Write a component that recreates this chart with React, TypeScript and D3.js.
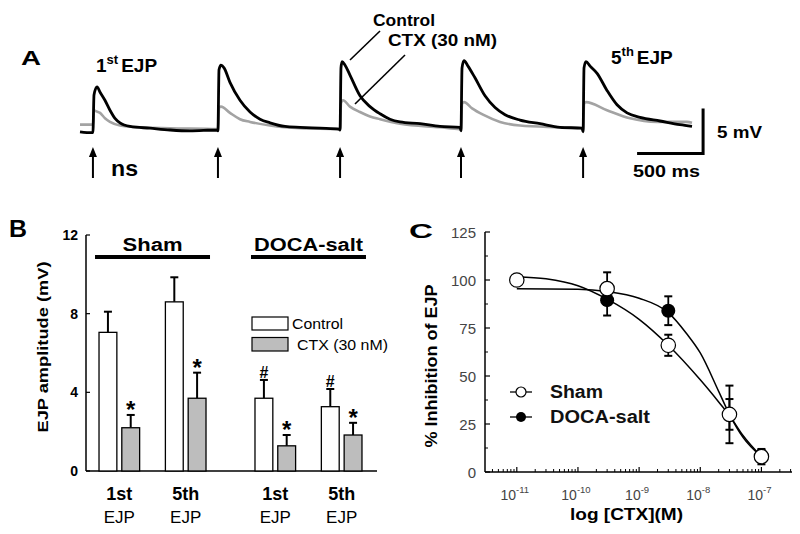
import React from "react";
import * as d3 from "d3";

const FONT = "'Liberation Sans', Arial, Helvetica, sans-serif";

// ---------- Panel A data (time in ms, membrane potential in mV) ----------
const stimTimes = [98, 1045, 1970, 2886, 3811];
const controlTrace: [number, number][] = [
  [0, -0.2], [91, -0.3], [98, -0.3], [106, 3.9], [129, 4.8], [152, 4.2], [189, 3.3], [227, 2.2], [265, 1.3], [303, 0.8], [379, 0.4], [530, 0.2], [682, 0], [833, -0.1], [1038, 0],
  [1045, -0.1], [1053, 6.7], [1068, 7.2], [1091, 6.9], [1136, 5.3], [1212, 3.3], [1288, 2.0], [1364, 1.2], [1439, 0.8], [1553, 0.4], [1667, 0.3], [1818, 0.2], [1962, 0.1],
  [1970, 0], [1977, 6.9], [1985, 7.6], [2008, 7.2], [2045, 6.1], [2121, 3.8], [2197, 2.6], [2273, 1.8], [2348, 1.2], [2424, 0.9], [2576, 0.7], [2727, 0.4], [2879, 0.3],
  [2886, -0.1], [2894, 6.9], [2909, 7.7], [2939, 7.1], [2992, 5.8], [3068, 3.8], [3144, 2.5], [3220, 1.7], [3333, 1.1], [3485, 0.7], [3636, 0.3], [3803, 0.2],
  [3811, -0.2], [3818, 6.9], [3833, 7.6], [3864, 7.1], [3917, 6.3], [3992, 4.4], [4068, 2.8], [4144, 1.9], [4242, 1.4], [4394, 1.0], [4545, 0.6], [4636, 0.4],
];
const ctxTrace: [number, number][] = [
  [0, 0.6], [91, 0.6], [98, 0.5], [106, 2.2], [120, 2.1], [152, 1.9], [189, 1.3], [227, 0.9], [303, 0.5], [455, 0.3], [682, 0.2], [1038, 0.1],
  [1045, 0], [1053, 2.5], [1068, 2.6], [1136, 1.9], [1212, 1.2], [1288, 0.9], [1439, 0.5], [1667, 0.2], [1962, 0.1],
  [1970, 0.0], [1977, 3.0], [1992, 3.3], [2045, 2.6], [2121, 2.0], [2197, 1.5], [2273, 1.2], [2424, 0.7], [2727, 0.3], [2879, 0.1],
  [2886, 0.1], [2894, 2.9], [2909, 3.1], [2970, 2.4], [3053, 1.7], [3182, 0.9], [3333, 0.5], [3636, 0.3], [3803, 0.2],
  [3811, 0], [3818, 2.9], [3833, 3.1], [3992, 2.2], [4167, 1.3], [4371, 0.9], [4598, 0.9], [4636, 0.8],
];
const scaleBarStart = 4220; // ms
const scaleBarMs = 500;
const scaleBarMv = 5;
const scaleBarBase = -2.6; // mV

// ---------- Panel B data ----------
const groupsB = ["Sham", "DOCA-salt"];
const ejpB = ["1st", "5th"];
const seriesB = ["Control", "CTX (30 nM)"];
const controlMean = [7.05, 8.6, 3.7, 3.27];
const controlSem = [1.05, 1.25, 0.93, 0.9];
const ctxMean = [2.2, 3.7, 1.28, 1.83];
const ctxSem = [0.65, 1.3, 0.55, 0.62];
const yTicksB = [0, 4, 8, 12];

// ---------- Panel C data ----------
const shamConc = [1e-11, 3e-10, 3e-9, 3e-8, 1e-7];
const shamPct = [100, 95.5, 66, 30, 8];
const shamErr = [0, 8.5, 5.5, 15, 4];
const docaConc = [3e-10, 3e-9, 3e-8, 1e-7];
const docaPct = [89.5, 84, 30, 8.5];
const docaErr = [8, 7.5, 8, 3];
const shamFitConc = [1e-11, 3e-11, 1e-10, 3e-10, 1e-9, 3e-9, 1e-8, 2e-8, 3e-8, 5e-8, 1e-7];
const shamFitPct = [101.7, 100.6, 97, 90, 79.5, 66, 48, 36.5, 29.5, 19, 8];
const docaFitConc = [1e-11, 1e-10, 3e-10, 1e-9, 3e-9, 6e-9, 1e-8, 2e-8, 3e-8, 5e-8, 1e-7];
const docaFitPct = [95.5, 95.2, 94, 90.5, 83, 72, 62, 42, 30, 18, 8];
const yTicksC = [0, 25, 50, 75, 100, 125];
const decadesC = [-11, -10, -9, -8, -7];

const SA = "spacingAndGlyphs";

function PanelA() {
  const x = d3.scaleLinear().domain([0, 4636]).range([80, 692]);
  const y = d3.scaleLinear().domain([0, 5]).range([130, 85]);
  const line = d3
    .line<[number, number]>()
    .x((d) => x(d[0]))
    .y((d) => y(d[1]))
    .curve(d3.curveMonotoneX);
  const sbX0 = x(scaleBarStart);
  const sbX1 = x(scaleBarStart + scaleBarMs);
  const sbY0 = y(scaleBarBase);
  const sbY1 = y(scaleBarBase + scaleBarMv);
  return (
    <g fontFamily={FONT}>
      <text x={21} y={65} fontSize={21} fontWeight="bold" textLength={20} lengthAdjust={SA}>A</text>
      <text x={96} y={72} fontSize={19} fontWeight="bold">
        1<tspan fontSize={13} dy={-8}>st</tspan>
        <tspan dy={8} dx={3}>EJP</tspan>
      </text>
      <text x={611} y={64} fontSize={19} fontWeight="bold">
        5<tspan fontSize={13} dy={-8}>th</tspan>
        <tspan dy={8} dx={3}>EJP</tspan>
      </text>
      <path d={line(ctxTrace) || ""} fill="none" stroke="#a3a3a3" strokeWidth={2.6} />
      <path d={line(controlTrace) || ""} fill="none" stroke="#000" strokeWidth={2.8} />
      {stimTimes.map((t, i) => (
        <g key={i}>
          <line x1={x(t)} x2={x(t)} y1={152} y2={178} stroke="#000" strokeWidth={2} />
          <path d={`M${x(t)},147 L${x(t) - 4},157 L${x(t) + 4},157 Z`} fill="#000" />
        </g>
      ))}
      <text x={111} y={176} fontSize={22} fontWeight="bold" textLength={27} lengthAdjust={SA}>ns</text>
      <text x={373} y={26} fontSize={16} fontWeight="bold" textLength={62} lengthAdjust={SA}>Control</text>
      <text x={388} y={46} fontSize={16} fontWeight="bold" textLength={109} lengthAdjust={SA}>CTX (30 nM)</text>
      <line x1={350} y1={60} x2={380} y2={31} stroke="#000" strokeWidth={1.6} />
      <line x1={355} y1={104} x2={405} y2={55} stroke="#000" strokeWidth={1.6} />
      <path d={`M${sbX0},${sbY0} L${sbX1},${sbY0} L${sbX1},${sbY1}`} fill="none" stroke="#000" strokeWidth={3} />
      <text x={717} y={138} fontSize={17} fontWeight="bold" textLength={45} lengthAdjust={SA}>5 mV</text>
      <text x={633} y={177} fontSize={17} fontWeight="bold" textLength={67} lengthAdjust={SA}>500 ms</text>
    </g>
  );
}

function PanelB() {
  const y = d3.scaleLinear().domain([0, 12]).range([471, 235]);
  const outer = d3.scaleBand().domain(groupsB).range([92, 369]).paddingInner(0.314).paddingOuter(0.045);
  const inner = d3.scaleBand().domain(ejpB).range([0, outer.bandwidth()]).paddingInner(0.388);
  const ser = d3.scaleBand().domain(seriesB).range([0, inner.bandwidth()]).paddingInner(0.217);
  const items = controlMean.map((_, i) => {
    const g = groupsB[Math.floor(i / 2)];
    const e = ejpB[i % 2];
    const base = (outer(g) || 0) + (inner(e) || 0);
    return { i, g, e, base };
  });
  const bw = ser.bandwidth();
  const groupWidths = [60, 109];
  return (
    <g fontFamily={FONT}>
      <text x={9} y={237} fontSize={23} fontWeight="bold" textLength={18} lengthAdjust={SA}>B</text>
      <line x1={86} x2={86} y1={y(12)} y2={y(0)} stroke="#000" strokeWidth={1.5} />
      <line x1={86} x2={377} y1={y(0)} y2={y(0)} stroke="#000" strokeWidth={1.5} />
      {yTicksB.map((t) => (
        <g key={t}>
          <line x1={86} x2={90} y1={y(t)} y2={y(t)} stroke="#000" strokeWidth={1.2} />
          <text x={78} y={y(t) + 5} fontSize={14} fontWeight="bold" textAnchor="end">{t}</text>
        </g>
      ))}
      <text transform={`translate(48,347) rotate(-90)`} fontSize={15} fontWeight="bold" textAnchor="middle" textLength={171} lengthAdjust={SA}>EJP amplitude (mV)</text>
      {groupsB.map((g, gi) => {
        const x0 = outer(g) || 0;
        return (
          <g key={g}>
            <text x={x0 + outer.bandwidth() / 2} y={251} fontSize={18} fontWeight="bold" textAnchor="middle" textLength={groupWidths[gi]} lengthAdjust={SA}>{g}</text>
            <line x1={x0 - 4} x2={x0 + outer.bandwidth() + 4} y1={257} y2={257} stroke="#000" strokeWidth={4} />
          </g>
        );
      })}
      {items.map(({ i, e, base }) => {
        const cx = base + (ser(seriesB[0]) || 0);
        const tx = base + (ser(seriesB[1]) || 0);
        const cTop = y(controlMean[i] + controlSem[i]);
        const tTop = y(ctxMean[i] + ctxSem[i]);
        return (
          <g key={i}>
            <line x1={cx + bw / 2} x2={cx + bw / 2} y1={y(controlMean[i])} y2={cTop} stroke="#000" strokeWidth={2} />
            <line x1={cx + bw / 2 - 4} x2={cx + bw / 2 + 4} y1={cTop} y2={cTop} stroke="#000" strokeWidth={2} />
            <rect x={cx} y={y(controlMean[i])} width={bw} height={y(0) - y(controlMean[i])} fill="#fff" stroke="#000" strokeWidth={1.3} />
            <line x1={tx + bw / 2} x2={tx + bw / 2} y1={y(ctxMean[i])} y2={tTop} stroke="#000" strokeWidth={2} />
            <line x1={tx + bw / 2 - 4} x2={tx + bw / 2 + 4} y1={tTop} y2={tTop} stroke="#000" strokeWidth={2} />
            <rect x={tx} y={y(ctxMean[i])} width={bw} height={y(0) - y(ctxMean[i])} fill="#bdbdbd" stroke="#000" strokeWidth={1.3} />
            <text x={tx + bw / 2} y={tTop + 3} fontSize={24} fontWeight="bold" textAnchor="middle">*</text>
            {i >= 2 && (
              <text x={cx + bw / 2} y={cTop - 2} fontSize={16} fontWeight="bold" textAnchor="middle">#</text>
            )}
            <text x={base + inner.bandwidth() / 2} y={500} fontSize={18} fontWeight="bold" textAnchor="middle">{e}</text>
            <text x={base + inner.bandwidth() / 2} y={523} fontSize={17} textAnchor="middle">EJP</text>
          </g>
        );
      })}
      <rect x={252} y={317} width={36} height={13} fill="#fff" stroke="#000" strokeWidth={1.2} />
      <text x={292} y={329} fontSize={15} textLength={51} lengthAdjust={SA}>Control</text>
      <rect x={252} y={337.5} width={36} height={13.5} fill="#bdbdbd" stroke="#000" strokeWidth={1.2} />
      <text x={297} y={350} fontSize={15} textLength={91} lengthAdjust={SA}>CTX (30 nM)</text>
    </g>
  );
}

function PanelC() {
  const x = d3.scaleLog().domain([Math.pow(10, -11.52), Math.pow(10, -6.5)]).range([485, 792]);
  const y = d3.scaleLinear().domain([0, 125]).range([472, 232]);
  const line = d3
    .line<[number, number]>()
    .x((d) => x(d[0]))
    .y((d) => y(d[1]))
    .curve(d3.curveMonotoneX);
  const shamFit = shamFitConc.map((c, i) => [c, shamFitPct[i]] as [number, number]);
  const docaFit = docaFitConc.map((c, i) => [c, docaFitPct[i]] as [number, number]);
  const [d0, d1] = x.domain();
  const minor: number[] = [];
  for (let e = -12; e <= -7; e++) {
    for (let k = 2; k <= 9; k++) {
      const v = k * Math.pow(10, e);
      if (v > d0 && v < d1) minor.push(v);
    }
  }
  const minorY = d3.range(12.5, 125, 25);
  const errBar = (c: number, m: number, e: number, key: string) => {
    if (!e) return null;
    const cx = x(c);
    return (
      <g key={key}>
        <line x1={cx} x2={cx} y1={y(m + e)} y2={y(m - e)} stroke="#000" strokeWidth={1.8} />
        <line x1={cx - 4} x2={cx + 4} y1={y(m + e)} y2={y(m + e)} stroke="#000" strokeWidth={2} />
        <line x1={cx - 4} x2={cx + 4} y1={y(m - e)} y2={y(m - e)} stroke="#000" strokeWidth={2} />
      </g>
    );
  };
  return (
    <g fontFamily={FONT}>
      <text x={409} y={238} fontSize={20} fontWeight="bold" textLength={24} lengthAdjust={SA}>C</text>
      <line x1={485} x2={485} y1={y(125)} y2={y(0)} stroke="#000" strokeWidth={1.5} />
      <line x1={485} x2={792} y1={y(0)} y2={y(0)} stroke="#000" strokeWidth={1.5} />
      {yTicksC.map((t) => (
        <g key={t}>
          <line x1={485} x2={490} y1={y(t)} y2={y(t)} stroke="#000" strokeWidth={1.2} />
          <text x={476} y={y(t) + 5.5} fontSize={15} fill="#444" textAnchor="end">{t}</text>
        </g>
      ))}
      {minorY.map((t) => (
        <line key={t} x1={485} x2={488} y1={y(t)} y2={y(t)} stroke="#000" strokeWidth={1} />
      ))}
      {decadesC.map((e) => (
        <g key={e}>
          <line x1={x(Math.pow(10, e))} x2={x(Math.pow(10, e))} y1={y(0)} y2={y(0) - 5} stroke="#000" strokeWidth={1.2} />
          <text x={x(Math.pow(10, e)) - 2} y={500} fontSize={14} fill="#444" textAnchor="middle">
            10<tspan fontSize={9.5} dy={-7}>{e}</tspan>
          </text>
        </g>
      ))}
      {minor.map((v, i) => (
        <line key={i} x1={x(v)} x2={x(v)} y1={y(0)} y2={y(0) - 3} stroke="#000" strokeWidth={1} />
      ))}
      <text x={570} y={520} fontSize={16} fontWeight="bold" textLength={113} lengthAdjust={SA}>log [CTX](M)</text>
      <text transform={`translate(437,366) rotate(-90)`} fontSize={16} fontWeight="bold" textAnchor="middle" textLength={163} lengthAdjust={SA}>% Inhibition of EJP</text>
      <path d={line(shamFit) || ""} fill="none" stroke="#000" strokeWidth={1.5} />
      <path d={line(docaFit) || ""} fill="none" stroke="#000" strokeWidth={1.5} />
      {docaConc.map((c, i) => errBar(c, docaPct[i], docaErr[i], "de" + i))}
      {shamConc.map((c, i) => errBar(c, shamPct[i], shamErr[i], "se" + i))}
      {docaConc.map((c, i) => (
        <circle key={"d" + i} cx={x(c)} cy={y(docaPct[i])} r={7} fill="#000" />
      ))}
      {shamConc.map((c, i) => (
        <circle key={"s" + i} cx={x(c)} cy={y(shamPct[i])} r={7.2} fill="#fff" stroke="#000" strokeWidth={1.2} />
      ))}
      <line x1={510} x2={532} y1={392} y2={392} stroke="#000" strokeWidth={1.3} />
      <circle cx={521} cy={392} r={5} fill="#fff" stroke="#000" strokeWidth={1.2} />
      <line x1={510} x2={532} y1={417} y2={417} stroke="#000" strokeWidth={1.3} />
      <circle cx={521} cy={417} r={5} fill="#000" />
      <text x={550} y={398} fontSize={18} fontWeight="bold" fill="#111" textLength={53} lengthAdjust={SA}>Sham</text>
      <text x={550} y={423} fontSize={18} fontWeight="bold" fill="#111" textLength={100} lengthAdjust={SA}>DOCA-salt</text>
    </g>
  );
}

export default function App() {
  return (
    <svg width={800} height={534} style={{ position: "absolute", left: 0, top: 0, background: "#fff" }}>
      <rect width={800} height={534} fill="#fff" />
      <PanelA />
      <PanelB />
      <PanelC />
    </svg>
  );
}
